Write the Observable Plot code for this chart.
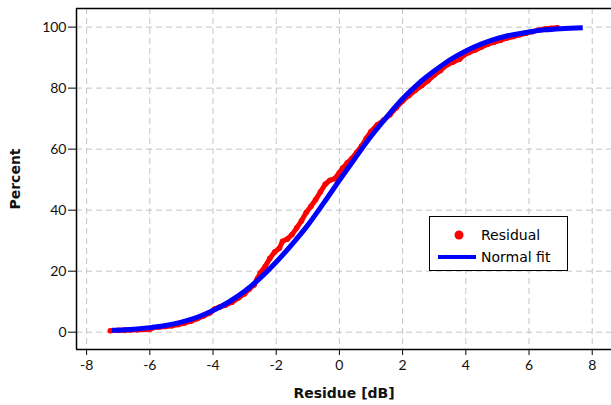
<!DOCTYPE html>
<html><head><meta charset="utf-8">
<script src="https://cdn.jsdelivr.net/npm/d3@7"></script>
<script src="https://cdn.jsdelivr.net/npm/@observablehq/plot@0.6"></script>
<style>
body{margin:0;background:#fff;}
#wrap{position:relative;width:611px;height:405px;overflow:hidden;}
#wrap svg [aria-label="x-axis label"] text,#wrap svg [aria-label="y-axis label"] text,
#wrap svg [aria-label="x-axis label"],#wrap svg [aria-label="y-axis label"]{font-family:"DejaVu Sans";font-weight:bold;font-size:14px;}
#legend{position:absolute;left:429px;top:216px;width:137px;height:53px;border:1px solid #000;background:#fff;font-family:"DejaVu Sans";font-size:14px;color:#000;}
#legend .item{position:absolute;left:51px;line-height:16px;white-space:nowrap;}
#legend svg{position:absolute;left:0;top:0;}
</style></head><body><div id="wrap"></div>
<script>
const residX = [-7.25,-7.0,-6.8,-6.6,-6.4,-6.2,-6.0,-5.9,-5.7,-5.5,-5.3,-5.1,-4.9,-4.7,-4.5,-4.3,-4.1,-3.95,-3.8,-3.6,-3.4,-3.2,-3.0,-2.85,-2.7,-2.6,-2.5,-2.35,-2.2,-2.05,-1.9,-1.8,-1.65,-1.5,-1.35,-1.2,-1.05,-0.9,-0.75,-0.6,-0.45,-0.3,-0.15,0.0,0.1,0.25,0.4,0.55,0.7,0.85,1.0,1.2,1.4,1.6,1.8,2.0,2.2,2.4,2.6,2.8,3.0,3.2,3.4,3.6,3.8,3.95,4.1,4.3,4.5,4.7,4.9,5.1,5.3,5.5,5.7,5.9,6.1,6.3,6.5,6.7,6.9];
const residP = [0.5,0.6,0.6,0.7,0.8,0.9,1.0,1.5,1.7,1.9,2.1,2.5,3.0,3.6,4.4,5.3,6.3,7.6,8.2,8.9,9.8,11.2,12.6,14.2,15.5,17.5,19.5,21.5,24.2,26.3,27.5,29.8,30.5,32.0,34.2,36.5,39.2,41.3,43.5,46.0,48.5,49.8,50.3,52.3,53.8,55.5,57.0,59.0,61.0,63.5,65.8,68.0,69.5,71.3,73.6,75.8,77.6,79.3,80.8,82.4,84.3,85.8,87.6,88.6,89.5,90.9,91.7,92.5,93.5,94.4,95.1,95.7,96.4,96.9,97.5,98.0,98.5,99.0,99.4,99.6,99.8];
// Normal fit curve
const fitX = [-7.2,-6.5,-6.0,-5.5,-5.0,-4.5,-4.0,-3.5,-3.0,-2.5,-2.0,-1.5,-1.0,-0.5,0.0,0.5,1.0,1.5,2.0,2.5,3.0,3.5,4.0,4.5,5.0,5.5,6.0,6.5,7.0,7.7];
const fitP = [0.6,1.0,1.5,2.2,3.3,4.9,7.1,9.9,13.4,17.8,23.0,28.8,35.1,42.3,49.8,57.1,64.2,70.6,76.5,81.5,85.6,89.3,92.2,94.5,96.3,97.5,98.4,99.1,99.5,99.8];
const xTicks = [-8,-6,-4,-2,0,2,4,6,8];
const yTicks = [0,20,40,60,80,100];
const xDomain = [-8.32, 8.61];
const yDomain = [-5.67, 106.1];
const seriesNames = ["Residual", "Normal fit"];
const seriesColors = ["#ff0000", "#0000ff"];

const resid = residX.map((x, i) => ({x, p: residP[i]}));
const fit = fitX.map((x, i) => ({x, p: fitP[i]}));

const plot = Plot.plot({
  width: 611, height: 405,
  marginLeft: 76, marginTop: 8, marginBottom: 56, marginRight: 0,
  x: {domain: xDomain},
  y: {domain: yDomain},
  style: {fontFamily: "Lato", fontSize: "14px", color: "#111", background: "#fff"},
  marks: [
    Plot.gridX(xTicks, {stroke: "#c4c4c4", strokeOpacity: 1, strokeDasharray: "6,4"}),
    Plot.gridY(yTicks, {stroke: "#c4c4c4", strokeOpacity: 1, strokeDasharray: "6,4"}),
    Plot.ruleY([yDomain[0], yDomain[1]], {stroke: "#000", strokeWidth: 1.5}),
    Plot.ruleX([xDomain[0]], {stroke: "#000", strokeWidth: 1.5}),
    Plot.axisX(xTicks, {tickSize: 6, tickPadding: 5, tickFormat: d => String(d), stroke: "#000",
      label: "Residue [dB]", labelAnchor: "center", labelOffset: 48, labelArrow: "none"}),
    Plot.axisY(yTicks, {tickSize: 8, tickPadding: 2, tickFormat: d => String(d), stroke: "#000",
      label: "Percent", labelAnchor: "center", labelOffset: 66, labelArrow: "none"}),
    Plot.line(resid, {x: "x", y: "p", stroke: seriesColors[0], strokeWidth: 5}),
    Plot.dot(resid, {x: "x", y: "p", r: 2.8, fill: seriesColors[0], stroke: "none"}),
    Plot.line(fit, {x: "x", y: "p", stroke: seriesColors[1], strokeWidth: 5, curve: "monotone-x", strokeLinecap: "butt"})
  ]
});
// strip any label arrows (fallback for older Plot versions)
plot.querySelectorAll('[aria-label="x-axis label"] text, [aria-label="y-axis label"] text, [aria-label="x-axis label"] tspan, [aria-label="y-axis label"] tspan').forEach(t => {
  if (t.childElementCount === 0) t.textContent = t.textContent.replace(/[\u2190-\u2193]/g, "").trim();
});
const wrap = document.getElementById("wrap");
wrap.appendChild(plot);

// legend overlay
const leg = document.createElement("div");
leg.id = "legend";
leg.innerHTML = `<svg width="137" height="53"><circle cx="29" cy="18" r="4.5" fill="${seriesColors[0]}"/><line x1="8" x2="46" y1="40" y2="40" stroke="${seriesColors[1]}" stroke-width="4"/></svg>
<div class="item" style="top:10px">${seriesNames[0]}</div><div class="item" style="top:32px">${seriesNames[1]}</div>`;
wrap.appendChild(leg);
</script></body></html>
